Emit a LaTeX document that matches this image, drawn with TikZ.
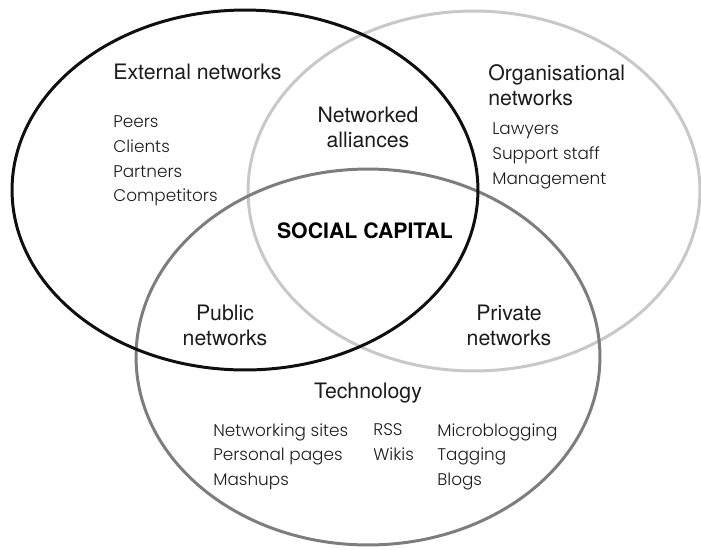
\documentclass[tikz,border=0pt]{standalone}
\usepackage{fontspec}
\setmainfont{TeX Gyre Heros}
\newfontfamily\listfont{Poppins Light}
\usetikzlibrary{positioning}

\definecolor{ringblack}{RGB}{15,15,15}
\definecolor{ringlight}{RGB}{200,200,200}
\definecolor{ringdark}{RGB}{125,125,125}
\definecolor{inkdark}{RGB}{28,28,28}

\begin{document}
\begin{tikzpicture}[
    x=0.02cm, y=-0.02cm,
    ring/.style={line width=1.7pt},
    heading/.style={align=center, text=inkdark, inner sep=0pt, font=\fontsize{12.1}{14.2}\selectfont},
    items/.style={align=left, anchor=north west, text=inkdark, inner sep=0pt, font=\listfont\fontsize{9.6}{14.2}\selectfont},
    core/.style={text=black, inner sep=0pt, font=\bfseries\fontsize{12.1}{14}\selectfont}
]
\useasboundingbox (0,0) rectangle (701,549);

% Rings
\draw [ring, ringlight] (474,191) ellipse [x radius=4.52cm, y radius=3.6cm];
\draw [ring, ringdark] (368,357) ellipse [x radius=4.64cm, y radius=3.76cm];
\draw [ring, ringblack] (245,190) ellipse [x radius=4.66cm, y radius=3.6cm];

% Headings
\node (external) [heading, anchor=base west] at (113,79) {External networks};
\node (organisational) [heading, align=left, anchor=north west] at (488,64) {Organisational\\networks};
\node (alliances) [heading] at (368,127) {Networked\\alliances};
\node (capital) [core, anchor=base] at (365,238) {SOCIAL CAPITAL};
\node (public) [heading] at (225,325) {Public\\networks};
\node (private) [heading] at (509,325) {Private\\networks};
\node (technology) [heading, anchor=base] at (368,398) {Technology};

% Lists
\node (peers) [items] at (113,115) {Peers\\Clients\\Partners\\Competitors};
\node (staff) [items] at (492,122) {Lawyers\\Support staff\\Management};
\node (sites) [items] at (213,423) {Networking sites\\Personal pages\\Mashups};
\node (feeds) [items] at (373,423) {RSS\\Wikis};
\node (blogs) [items] at (437,423) {Microblogging\\Tagging\\Blogs};

\end{tikzpicture}
\end{document}
